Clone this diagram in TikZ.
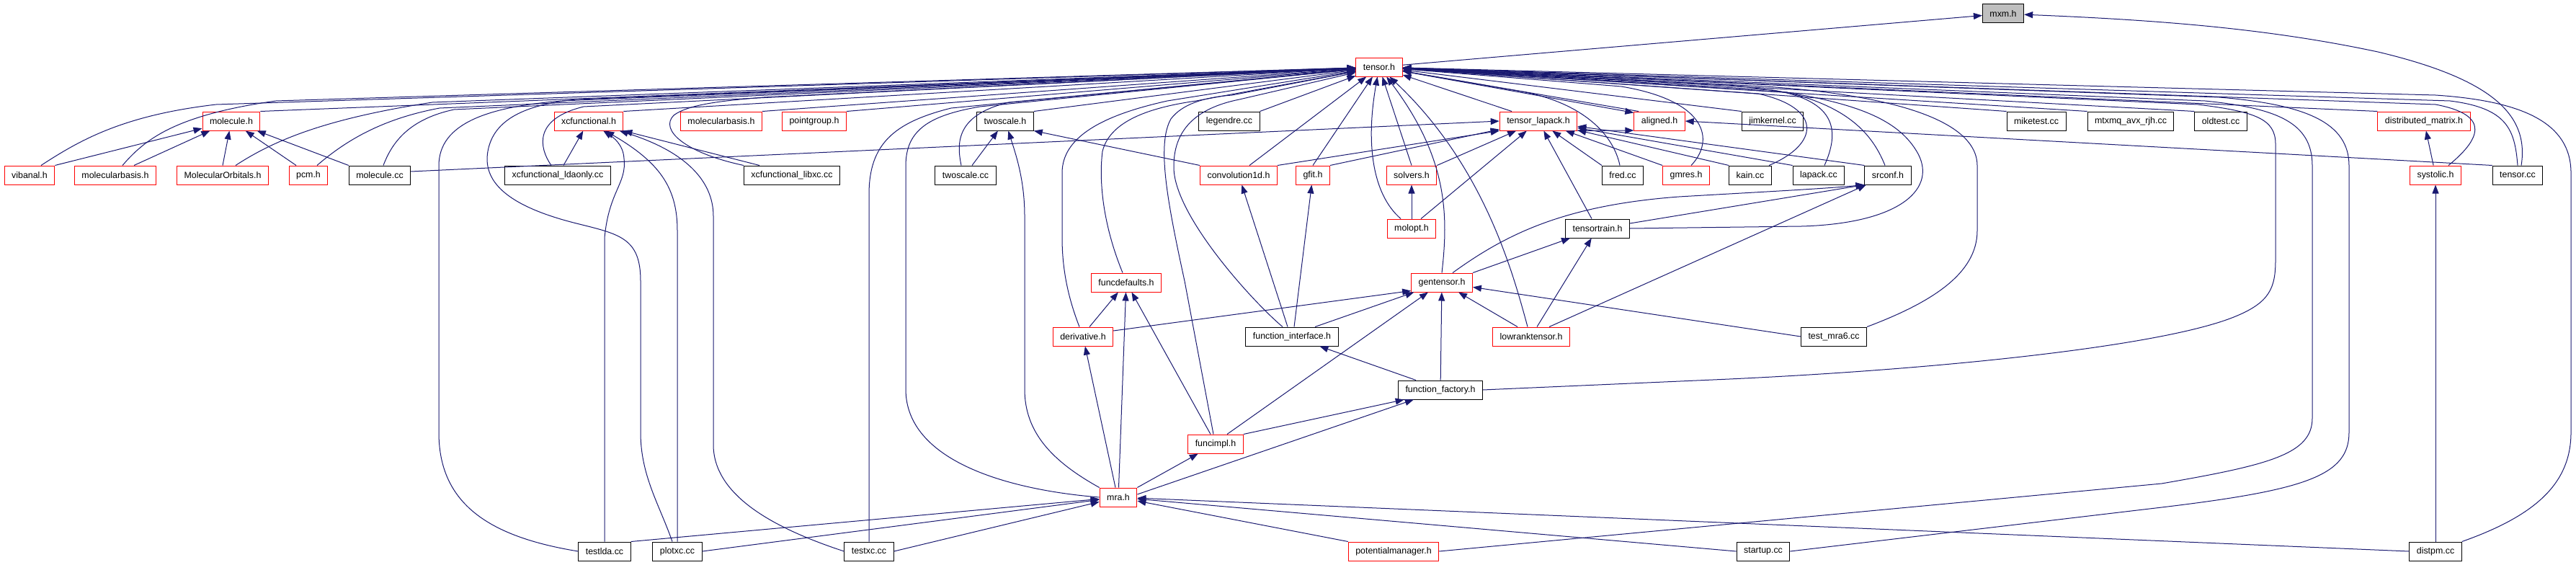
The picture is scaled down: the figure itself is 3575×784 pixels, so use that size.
\documentclass[tikz,border=0pt]{standalone}
\usepackage{fontspec}
\setmainfont{Liberation Sans}
\usetikzlibrary{arrows.meta}
\definecolor{edgeblue}{HTML}{191970}
\definecolor{boxred}{HTML}{FF0000}
\definecolor{boxgray}{HTML}{BFBFBF}

\begin{document}
\begin{tikzpicture}[x=1pt, y=-1pt,
    file/.style={rectangle, draw=black, line width=1pt, minimum height=26pt, inner xsep=10pt, inner ysep=0pt, font=\fontsize{12.4}{14}\selectfont},
    part/.style={file, draw=boxred},
    root/.style={file, fill=boxgray},
    arrow/.style={-{Triangle[length=12pt,width=9pt]}, line width=1pt, edgeblue}
]
\useasboundingbox (0,0) rectangle (3575,784);
\node[root] (mxmh) at (2780,19) {mxm.h};
\node[part] (tensorh) at (1914,93) {tensor.h};
\node[part] (moleculeh) at (321,168) {molecule.h};
\node[part] (xcfunch) at (817,168) {xcfunctional.h};
\node[part] (molbasisb) at (1001,168) {molecularbasis.h};
\node[part] (pointgrp) at (1130,168) {pointgroup.h};
\node[file] (twoscaleh) at (1395,168) {twoscale.h};
\node[file] (legendre) at (1706,168) {legendre.cc};
\node[part] (tlapack) at (2135,168) {tensor\_lapack.h};
\node[part] (aligned) at (2303,168) {aligned.h};
\node[file] (jimkernel) at (2460,168) {jimkernel.cc};
\node[file] (miketest) at (2826,168) {miketest.cc};
\node[file] (mtxmq) at (2957,168) {mtxmq\_avx\_rjh.cc};
\node[file] (oldtest) at (3082,168) {oldtest.cc};
\node[part] (distmat) at (3364,168) {distributed\_matrix.h};
\node[part] (vibanal) at (41,243) {vibanal.h};
\node[part] (molbasis) at (160,243) {molecularbasis.h};
\node[part] (molorb) at (309,243) {MolecularOrbitals.h};
\node[part] (pcm) at (428,243) {pcm.h};
\node[file] (moleculecc) at (527,243) {molecule.cc};
\node[file] (xclda) at (774,243) {xcfunctional\_ldaonly.cc};
\node[file] (xclibxc) at (1099,243) {xcfunctional\_libxc.cc};
\node[file] (twoscalecc) at (1340,243) {twoscale.cc};
\node[part] (conv1d) at (1719,243) {convolution1d.h};
\node[part] (gfit) at (1822,243) {gfit.h};
\node[part] (solvers) at (1959,243) {solvers.h};
\node[file] (fred) at (2252,243) {fred.cc};
\node[part] (gmres) at (2340,243) {gmres.h};
\node[file] (kain) at (2429,243) {kain.cc};
\node[file] (lapackcc) at (2524,243) {lapack.cc};
\node[file] (srconf) at (2620,243) {srconf.h};
\node[part] (systolic) at (3380,243) {systolic.h};
\node[file] (tensorcc) at (3494,243) {tensor.cc};
\node[part] (molopt) at (1959,317) {molopt.h};
\node[file] (ttrain) at (2217,317) {tensortrain.h};
\node[part] (funcdef) at (1563,392) {funcdefaults.h};
\node[part] (gentensor) at (2001,392) {gentensor.h};
\node[part] (deriv) at (1503,467) {derivative.h};
\node[file] (funcif) at (1793,467) {function\_interface.h};
\node[part] (lowrank) at (2125,467) {lowranktensor.h};
\node[file] (testmra) at (2545,467) {test\_mra6.cc};
\node[file] (funcfact) at (1999,541) {function\_factory.h};
\node[part] (funcimpl) at (1687,616) {funcimpl.h};
\node[part] (mra) at (1552,690) {mra.h};
\node[file] (testlda) at (839,765) {testlda.cc};
\node[file] (plotxc) at (940,765) {plotxc.cc};
\node[file] (testxc) at (1206,765) {testxc.cc};
\node[part] (potman) at (1934,765) {potentialmanager.h};
\node[file] (startup) at (2447,765) {startup.cc};
\node[file] (distpm) at (3380,765) {distpm.cc};
\draw[arrow] (tensorh) -- (mxmh);
\draw[arrow] ([xshift=5pt]tensorcc.north) .. controls (3510,160) and (3460,110) .. (3300,72) .. controls (3150,40) and (3000,28) .. (mxmh);
\draw[arrow] ([xshift=16pt]vibanal.north) .. controls (110,195) and (170,160) .. (300,145) -- (tensorh);
\draw[arrow] ([xshift=10pt]molbasis.north) .. controls (200,195) and (240,160) .. (383,140) -- (tensorh);
\draw[arrow] (moleculeh.north east) -- (tensorh);
\draw[arrow] ([xshift=18pt]molorb.north) .. controls (380,195) and (450,165) .. (600,142) -- (tensorh);
\draw[arrow] ([xshift=12pt]pcm.north) .. controls (480,195) and (530,165) .. (610,150) -- (tensorh);
\draw[arrow] ([xshift=5pt]moleculecc.north) .. controls (545,195) and (570,165) .. (630,152) -- (tensorh);
\draw[arrow] (testlda.west) .. controls (680,745) and (609,700) .. (609,600) -- (609,230) .. controls (609,170) and (680,148) .. (780,140) -- (tensorh);
\draw[arrow] ([xshift=-7pt]plotxc.north) .. controls (915,700) and (889,660) .. (889,600) -- (889,390) .. controls (889,330) and (860,325) .. (800,310) .. controls (700,285) and (670,250) .. (677,210) .. controls (685,165) and (730,145) .. (800,138) -- (tensorh);
\draw[arrow] ([xshift=-9pt]xclda.north) .. controls (748,205) and (740,165) .. (810,148) -- (tensorh);
\draw[arrow] (xclibxc.north west) .. controls (950,212) and (915,180) .. (935,160) .. controls (955,145) and (1000,140) .. (1060,135) -- (tensorh);
\draw[arrow] (xcfunch.north east) -- (tensorh);
\draw[arrow] (molbasisb.north east) -- (tensorh);
\draw[arrow] (pointgrp.north east) -- (tensorh);
\draw[arrow] (testxc.north) -- (1206,270) .. controls (1206,200) and (1240,170) .. (1320,150) -- (tensorh);
\draw[arrow] (mra.west) .. controls (1400,680) and (1257,640) .. (1257,540) -- (1257,230) .. controls (1257,180) and (1290,160) .. (1360,148) -- (tensorh);
\draw[arrow] ([xshift=-6pt]twoscalecc.north) .. controls (1328,200) and (1325,160) .. (1400,142) -- (tensorh);
\draw[arrow] (twoscaleh.north east) -- (tensorh);
\draw[arrow] (mra.north west) .. controls (1460,640) and (1422,600) .. (1422,540) -- (1422,300) .. controls (1422,250) and (1410,215) .. (twoscaleh);
\draw[arrow] (conv1d.north west) -- (twoscaleh.south east);
\draw[arrow] ([xshift=9pt]twoscalecc.north) -- (twoscaleh);
\draw[arrow] ([xshift=-5pt]deriv.north) .. controls (1485,420) and (1474,380) .. (1474,330) -- (1474,240) .. controls (1474,190) and (1530,160) .. (1620,140) -- (tensorh);
\draw[arrow] ([xshift=-5pt]funcdef.north) .. controls (1530,310) and (1525,250) .. (1530,210) .. controls (1540,170) and (1590,150) .. (1660,140) -- (tensorh);
\draw[arrow] ([xshift=-3pt]funcimpl.north) -- (1644,390) .. controls (1620,280) and (1605,200) .. (1625,165) .. controls (1640,145) and (1670,135) .. (1710,132) -- (tensorh);
\draw[arrow] ([xshift=-13pt]funcif.north) .. controls (1740,420) and (1630,300) .. (1629,233) .. controls (1628,180) and (1660,150) .. (1720,138) -- (tensorh);
\draw[arrow] ([xshift=15pt]conv1d.north) -- (tensorh);
\draw[arrow] (legendre.north east) -- (tensorh);
\draw[arrow] (gfit.north) -- (tensorh);
\draw[arrow] (solvers.north) -- (tensorh);
\draw[arrow] ([xshift=-15pt]molopt.north) .. controls (1905,270) and (1895,200) .. (tensorh);
\draw[arrow] (gentensor.north) .. controls (2010,300) and (2010,220) .. (tensorh);
\draw[arrow] ([xshift=-5pt]lowrank.north) .. controls (2100,380) and (2060,230) .. (tensorh);
\draw[arrow] ([xshift=-37pt]tlapack.north) -- (tensorh);
\draw[arrow] (tensorh) -- (aligned.162);
\draw[arrow] (aligned.155) -- (tensorh);
\draw[arrow] ([xshift=-4pt]fred.north) .. controls (2240,190) and (2200,140) .. (2100,125) -- (tensorh);
\draw[arrow] ([xshift=7pt]gmres.north) .. controls (2380,195) and (2370,140) .. (2250,120) -- (tensorh);
\draw[arrow] ([xshift=26pt]kain.north) .. controls (2525,200) and (2530,150) .. (2440,130) -- (tensorh);
\draw[arrow] ([xshift=8pt]lapackcc.north) .. controls (2552,185) and (2552,140) .. (2460,125) -- (tensorh);
\draw[arrow] ([xshift=-4pt]srconf.north) .. controls (2600,190) and (2570,150) .. (2480,128) -- (tensorh);
\draw[arrow] (ttrain.east) -- (2500,314) .. controls (2640,310) and (2690,260) .. (2660,210) .. controls (2630,160) and (2560,135) .. (2400,118) -- (tensorh);
\draw[arrow] (testmra.north east) .. controls (2680,420) and (2744,380) .. (2744,320) -- (2744,230) .. controls (2744,160) and (2600,130) .. (2450,120) -- (tensorh);
\draw[arrow] (jimkernel.north west) -- (tensorh);
\draw[arrow] (miketest.north west) -- (tensorh);
\draw[arrow] (mtxmq.north west) -- (tensorh);
\draw[arrow] (oldtest.north west) -- (tensorh);
\draw[arrow] (distmat.north west) -- (tensorh);
\draw[arrow] ([xshift=18pt]systolic.north) .. controls (3440,195) and (3460,160) .. (3380,145) -- (tensorh);
\draw[arrow] (tensorcc.north) .. controls (3490,180) and (3480,150) .. (3400,140) -- (tensorh);
\draw[arrow] (distpm.north east) .. controls (3520,715) and (3568,670) .. (3568,600) -- (3568,240) .. controls (3568,170) and (3500,140) .. (3380,132) -- (tensorh);
\draw[arrow] (funcfact.east) -- (2400,526) .. controls (2700,512) and (3000,480) .. (3100,440) .. controls (3150,420) and (3158,400) .. (3158,360) -- (3158,200) .. controls (3158,165) and (3130,155) .. (3050,145) -- (tensorh);
\draw[arrow] (potman.east) -- (3000,671) .. controls (3150,645) and (3209,630) .. (3209,580) -- (3209,230) .. controls (3209,170) and (3160,150) .. (3060,140) -- (tensorh);
\draw[arrow] (startup.east) -- (3000,704) .. controls (3200,680) and (3260,660) .. (3260,600) -- (3260,230) .. controls (3260,170) and (3200,145) .. (3080,135) -- (tensorh);
\draw[arrow] (vibanal.north east) -- (moleculeh);
\draw[arrow] ([xshift=26pt]molbasis.north) -- (moleculeh);
\draw[arrow] (molorb.north) -- (moleculeh);
\draw[arrow] ([xshift=-17pt]pcm.north) -- (moleculeh);
\draw[arrow] (moleculecc.north west) -- (moleculeh);
\draw[arrow] ([yshift=5pt]moleculecc.east) -- (tlapack.west);
\draw[arrow] ([xshift=8pt]xclda.north) -- (xcfunch);
\draw[arrow] (testlda.north) -- (839,330) .. controls (845,265) and (870,255) .. (866,220) .. controls (865,200) and (850,190) .. (xcfunch);
\draw[arrow] (plotxc.north) -- (940,320) .. controls (940,260) and (915,225) .. (xcfunch);
\draw[arrow] (testxc.west) .. controls (1080,735) and (990,690) .. (990,617) -- (990,300) .. controls (990,250) and (950,210) .. (xcfunch);
\draw[arrow] ([xshift=-45pt]xclibxc.north) -- (xcfunch.south east);
\draw[arrow] (conv1d.north east) -- (tlapack.south west);
\draw[arrow] (gfit.north east) -- (tlapack);
\draw[arrow] (solvers.north east) -- (tlapack);
\draw[arrow] (molopt) -- (solvers);
\draw[arrow] ([xshift=13pt]molopt.north) -- (tlapack);
\draw[arrow] ([xshift=-8pt]ttrain.north) -- (tlapack);
\draw[arrow] (fred.north west) -- (tlapack);
\draw[arrow] (gmres.north west) -- (tlapack);
\draw[arrow] (kain.north west) -- (tlapack);
\draw[arrow] (lapackcc.north west) -- (tlapack);
\draw[arrow] (srconf.north west) -- (tlapack);
\draw[arrow] (tlapack.south east) -- (aligned.200);
\draw[arrow] (tensorcc.north west) -- (aligned.east);
\draw[arrow] (gentensor.north east) -- (ttrain);
\draw[arrow] ([xshift=8pt]lowrank.north) -- (ttrain);
\draw[arrow] ([xshift=15pt]gentensor.north) .. controls (2090,325) and (2170,285) .. (2330,273) .. controls (2450,266) and (2530,262) .. (srconf.south west);
\draw[arrow] ([yshift=7pt]ttrain.east) -- (srconf.south west);
\draw[arrow] ([xshift=25pt]lowrank.north) -- (srconf);
\draw[arrow] ([yshift=8pt]deriv.east) -- (gentensor.195);
\draw[arrow] ([xshift=32pt]funcif.north) -- (gentensor);
\draw[arrow] ([xshift=16pt]funcimpl.north) -- (gentensor);
\draw[arrow] (funcfact) -- (gentensor);
\draw[arrow] ([xshift=-19pt]lowrank.north) -- (gentensor);
\draw[arrow] (testmra.west) -- (gentensor);
\draw[arrow] ([xshift=9pt]deriv.north) -- (funcdef);
\draw[arrow] ([xshift=-7pt]funcimpl.north) -- (funcdef);
\draw[arrow] (mra) -- (funcdef);
\draw[arrow] ([xshift=-4pt]mra.north) -- (deriv);
\draw[arrow] (mra.north east) -- (funcimpl);
\draw[arrow] ([yshift=4pt]mra.east) -- (funcfact.200);
\draw[arrow] (funcimpl.north east) -- (funcfact.195);
\draw[arrow] ([xshift=-34pt]funcfact.north) -- (funcif);
\draw[arrow] ([xshift=-6pt]funcif.north) -- (conv1d);
\draw[arrow] ([xshift=3pt]funcif.north) -- (gfit);
\draw[arrow] (testlda.north east) -- (mra);
\draw[arrow] (plotxc.east) -- (mra);
\draw[arrow] (testxc.east) -- (mra);
\draw[arrow] (potman.north west) -- (mra);
\draw[arrow] (startup.west) -- (mra);
\draw[arrow] (distpm.west) -- (mra);
\draw[arrow] (systolic) -- (distmat);
\draw[arrow] (distpm) -- (systolic);
\end{tikzpicture}
\end{document}
